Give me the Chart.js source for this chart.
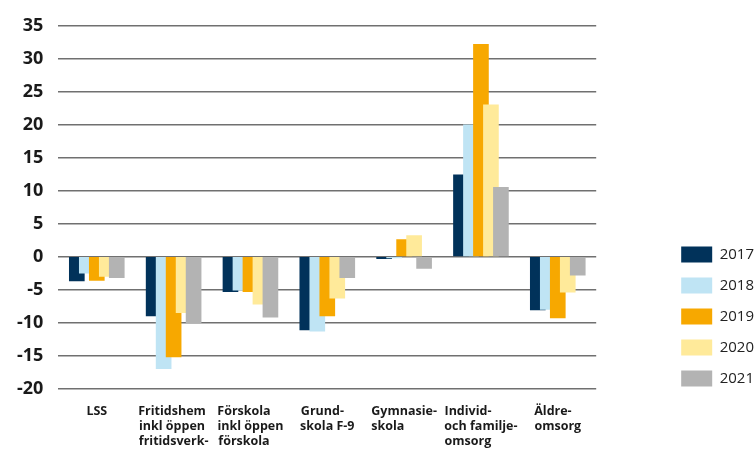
<!DOCTYPE html>
<html>
<head>
<meta charset="utf-8">
<script src="https://cdn.jsdelivr.net/npm/chart.js@4.4.0/dist/chart.umd.min.js"></script>
<style>
html, body { margin: 0; padding: 0; background: #fff; }
#wrap { width: 756px; height: 450px; }
</style>
</head>
<body>
<div id="wrap"><canvas id="myChart"></canvas></div>
<script>
// kategorier (flerradiga etiketter)
const kategorier = [
	['LSS'],
	['Fritidshem', 'inkl öppen', 'fritidsverk-'],
	['Förskola', 'inkl öppen', 'förskola'],
	['Grund-', 'skola F-9'],
	['Gymnasie-', 'skola'],
	['Individ-', 'och familje-', 'omsorg'],
	['Äldre-', 'omsorg']
];
const ar = ['2017', '2018', '2019', '2020', '2021'];
const v2017 = [-3.7, -9.0, -5.3, -11.1, -0.3, 12.4, -8.1];
const v2018 = [-2.5, -17.0, -5.1, -11.3, -0.2, 20.0, -8.0];
const v2019 = [-3.6, -15.2, -5.3, -9.0, 2.6, 32.2, -9.3];
const v2020 = [-3.0, -8.5, -7.2, -6.3, 3.2, 23.0, -5.4];
const v2021 = [-3.2, -10.0, -9.2, -3.2, -1.8, 10.5, -2.8];
const yMin = -20;
const yMax = 35;
const ySteg = 5;

const serier = [v2017, v2018, v2019, v2020, v2021];
const farger = ['#01325a', '#bfe4f4', '#f7a800', '#ffea9a', '#b3b3b3'];
const font = 'Open Sans';
const xFont = { family: font, size: 12.5, weight: 'bold', lineHeight: 1.2 };

// vänsterjustera raderna i varje etikett genom att fylla ut med mellanslag
const mctx = document.createElement('canvas').getContext('2d');
mctx.font = 'bold ' + xFont.size + 'px "' + font + '"';
function vansterjustera(rader) {
	const maxW = Math.max.apply(null, rader.map(function (r) { return mctx.measureText(r).width; }));
	return rader.map(function (r) {
		let s = r;
		while (mctx.measureText(s + ' ').width <= maxW + 1.5) s += ' ';
		return s;
	});
}
const etiketter = kategorier.map(vansterjustera);

// staplarna overlappar som i originalet, senare år ritas överst
const datasets = serier.map(function (serie, k) {
	return {
		label: ar[k],
		backgroundColor: farger[k],
		data: serie.map(function (v, i) { return {x: i + (k - 2) * 0.13, y: v}; })
	};
}).reverse();

// flytta förklaringen lite nedåt/åt höger som i originalet
const flyttaLegend = {
	id: 'flyttaLegend',
	afterLayout: function (chart) {
		const l = chart.legend;
		if (!l) return;
		l.top += 13; l.bottom += 13;
		l.left += 8; l.right += 8;
	}
};

const config = {
	type: 'bar',
	data: { datasets: datasets },
	plugins: [flyttaLegend],
	options: {
		responsive: true,
		maintainAspectRatio: false,
		animation: false,
		layout: { padding: { top: 12.5, left: 2, right: 0, bottom: -14.5 } },
		datasets: { bar: { grouped: false, barThickness: 15 } },
		plugins: {
			tooltip: { enabled: false },
			legend: {
				position: 'right',
				align: 'end',
				fullSize: false,
				reverse: true,
				labels: {
					boxWidth: 31,
					boxHeight: 16,
					padding: 15,
					color: '#222',
					font: { family: font, size: 15, lineHeight: 1.2 }
				}
			}
		},
		scales: {
			x: {
				type: 'linear',
				min: -0.5,
				max: 6.5,
				offset: false,
				grid: { display: false, drawTicks: false },
				border: { display: false },
				afterBuildTicks: function (s) {
					s.ticks = etiketter.map(function (_, i) { return {value: i}; });
				},
				ticks: {
					autoSkip: false,
					maxRotation: 0,
					padding: 15.5,
					color: '#1a1a1a',
					font: xFont,
					callback: function (v) { return etiketter[v]; }
				}
			},
			y: {
				min: yMin,
				max: yMax,
				grid: { color: '#707070', lineWidth: 1.5, drawTicks: false },
				border: { display: false },
				ticks: {
					stepSize: ySteg,
					padding: 15,
					color: '#1a1a1a',
					font: { family: font, size: 18, weight: 'bold' }
				}
			},
			luft: {
				position: 'right',
				display: true,
				grid: { display: false, drawTicks: false },
				border: { display: false },
				ticks: { display: false },
				afterFit: function (s) { s.width = 62; }
			}
		}
	}
};

const myChart = new Chart(document.getElementById('myChart'), config);
</script>
</body>
</html>
